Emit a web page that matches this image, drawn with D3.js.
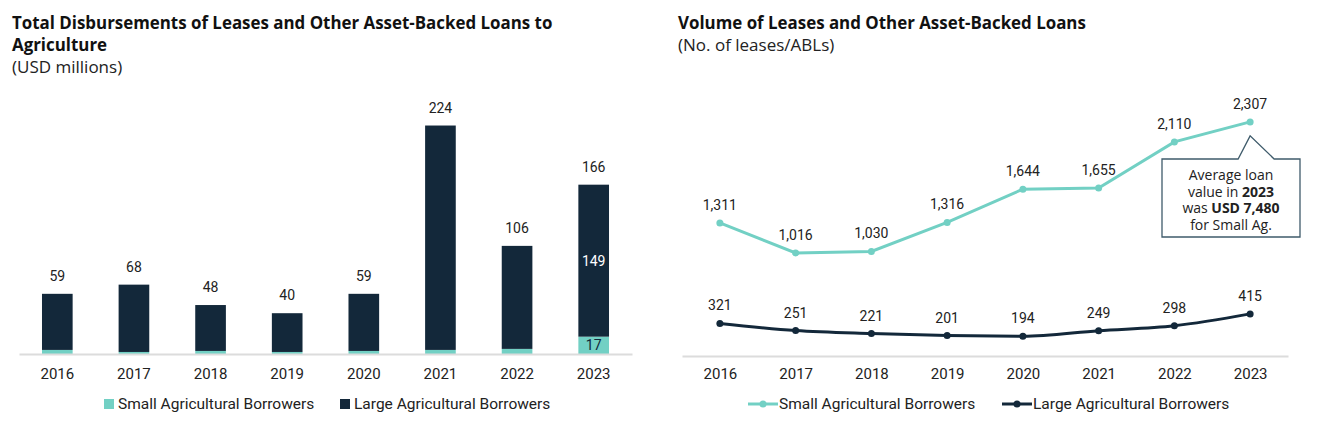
<!DOCTYPE html>
<html>
<head>
<meta charset="utf-8">
<script src="https://cdn.jsdelivr.net/npm/d3@7"></script>
<style>
  body { margin: 0; background: #fff; }
  svg { display: block; }
  text { font-family: Roboto, "Noto Sans", sans-serif; fill: #222; }
  .title { font-family: "Open Sans", sans-serif; font-weight: 700; font-size: 16.9px; fill: #111; }
  .sub { font-family: "Open Sans", sans-serif; font-size: 17px; }
</style>
</head>
<body>
<svg id="chart" width="1335" height="425"></svg>
<script>
// data
const years = ["2016", "2017", "2018", "2019", "2020", "2021", "2022", "2023"];
const smallDisb = [4, 2, 3, 2, 3, 4, 5, 17];
const largeDisb = [55, 66, 45, 38, 56, 220, 101, 149];
const totalDisb = [59, 68, 48, 40, 59, 224, 106, 166];
const smallVol = [1311, 1016, 1030, 1316, 1644, 1655, 2110, 2307];
const largeVol = [321, 251, 221, 201, 194, 249, 298, 415];
const seriesNames = ["Small Agricultural Borrowers", "Large Agricultural Borrowers"];

const teal = "#72d0c4";
const navy = "#13283a";
const fmt = d3.format(",");

const svg = d3.select("#chart");

// ---------- left: stacked bars ----------
const left = svg.append("g");

left.append("text").attr("class", "title").attr("x", 12).attr("y", 29)
    .text("Total Disbursements of Leases and Other Asset-Backed Loans to");
left.append("text").attr("class", "title").attr("x", 12).attr("y", 51)
    .text("Agriculture");
left.append("text").attr("class", "sub").attr("x", 12).attr("y", 73)
    .text("(USD millions)");

const xb = d3.scaleBand().domain(years).range([19, 632])
    .paddingInner(0.6).paddingOuter(0.3);
const yb = d3.scaleLinear().domain([0, 250]).range([354, 99]);

const rows = years.map((y, i) => ({ year: y, small: smallDisb[i], large: largeDisb[i], total: totalDisb[i] }));
const stack = d3.stack().keys(["small", "large"])(rows);
const colors = { small: teal, large: navy };

left.selectAll("g.layer").data(stack).join("g")
    .attr("class", "layer")
    .attr("fill", d => colors[d.key])
    .selectAll("rect").data(d => d).join("rect")
    .attr("x", d => xb(d.data.year))
    .attr("width", xb.bandwidth())
    .attr("y", d => yb(d[1]))
    .attr("height", d => yb(d[0]) - yb(d[1]));

left.selectAll("text.total").data(rows).join("text")
    .attr("class", "total")
    .attr("x", d => xb(d.year) + xb.bandwidth() / 2)
    .attr("y", d => yb(d.total) - 13)
    .attr("text-anchor", "middle")
    .style("font-size", "14px")
    .text(d => d.total);

// inner labels for 2023
const last = rows[rows.length - 1];
left.append("text")
    .attr("x", xb(last.year) + xb.bandwidth() / 2)
    .attr("y", yb(last.small + last.large / 2) + 5)
    .attr("text-anchor", "middle")
    .style("font-size", "14px").style("fill", "#fff")
    .text(last.large);
left.append("text")
    .attr("x", xb(last.year) + xb.bandwidth() / 2)
    .attr("y", yb(last.small / 2) + 5)
    .attr("text-anchor", "middle")
    .style("font-size", "14px").style("fill", navy)
    .text(last.small);

const axL = left.append("g").attr("transform", "translate(0,354)")
    .call(d3.axisBottom(xb).tickSize(0).tickPadding(14));
axL.select(".domain").attr("stroke", "#dcdcdc").attr("stroke-width", 2);
axL.selectAll("text").style("font-size", "15px").style("fill", "#222")
    .style("font-family", "Roboto, sans-serif");

const legL = left.append("g").attr("transform", "translate(0,404)");
[[104, teal, seriesNames[0]], [340, navy, seriesNames[1]]].forEach(([x, c, t]) => {
    legL.append("rect").attr("x", x).attr("y", -5).attr("width", 10).attr("height", 10).attr("fill", c);
    legL.append("text").attr("x", x + 14).attr("y", 5).style("font-size", "15.5px").text(t);
});

// ---------- right: lines ----------
const right = svg.append("g");

right.append("text").attr("class", "title").attr("x", 678).attr("y", 29)
    .text("Volume of Leases and Other Asset-Backed Loans");
right.append("text").attr("class", "sub").attr("x", 678).attr("y", 51)
    .text("(No. of leases/ABLs)");

const xp = d3.scalePoint().domain(years).range([682, 1288]).padding(0.5);
const yp = d3.scaleLinear().domain([0, 2500]).range([356, 102.3]);

const axR = right.append("g").attr("transform", "translate(0,356)")
    .call(d3.axisBottom(xp).tickSize(0).tickPadding(12));
axR.select(".domain").attr("stroke", "#dcdcdc").attr("stroke-width", 2);
axR.selectAll("text").style("font-size", "15px").style("fill", "#222")
    .style("font-family", "Roboto, sans-serif");

const lines = [
    { name: seriesNames[0], values: smallVol, color: teal, curve: d3.curveLinear },
    { name: seriesNames[1], values: largeVol, color: navy, curve: d3.curveMonotoneX }
];

lines.forEach(s => {
    const line = d3.line()
        .x((d, i) => xp(years[i]))
        .y(d => yp(d))
        .curve(s.curve);
    right.append("path").datum(s.values)
        .attr("d", line)
        .attr("fill", "none")
        .attr("stroke", s.color)
        .attr("stroke-width", 3);
    right.selectAll(null).data(s.values).join("circle")
        .attr("cx", (d, i) => xp(years[i]))
        .attr("cy", d => yp(d))
        .attr("r", 3.5)
        .attr("fill", s.color);
    right.selectAll(null).data(s.values).join("text")
        .attr("x", (d, i) => xp(years[i]))
        .attr("y", d => yp(d) - 13)
        .attr("text-anchor", "middle")
        .style("font-size", "14px")
        .text(d => fmt(d));
});

// callout box
const cx = xp("2023");
const cy = yp(smallVol[7]);
const bx0 = 1162, bx1 = 1300, by0 = 159, by1 = 237;
right.append("path")
    .attr("d", `M${bx0},${by0} H${cx - 12} L${cx},${cy + 14} L${cx + 24},${by0} H${bx1} V${by1} H${bx0} Z`)
    .attr("fill", "#fff")
    .attr("stroke", "#3f5b6b")
    .attr("stroke-width", 1.3);

const note = [
    [["Average loan", false]],
    [["value in ", false], ["2023", true]],
    [["was ", false], ["USD 7,480", true]],
    [["for Small Ag.", false]]
];
const noteX = (bx0 + bx1) / 2;
note.forEach((parts, i) => {
    const t = right.append("text")
        .attr("x", noteX).attr("y", 180 + i * 16.7)
        .attr("text-anchor", "middle")
        .style("font-family", "'Open Sans', sans-serif")
        .style("font-size", "14px");
    parts.forEach(([str, bold]) => {
        t.append("tspan").style("font-weight", bold ? 700 : 400).text(str);
    });
});

const legR = right.append("g").attr("transform", "translate(0,404)");
[[748, teal, seriesNames[0]], [1002, navy, seriesNames[1]]].forEach(([x, c, t]) => {
    legR.append("line").attr("x1", x).attr("x2", x + 30).attr("y1", 0).attr("y2", 0)
        .attr("stroke", c).attr("stroke-width", 3);
    legR.append("circle").attr("cx", x + 15).attr("cy", 0).attr("r", 3.5).attr("fill", c);
    legR.append("text").attr("x", x + 31).attr("y", 5).style("font-size", "15.5px").text(t);
});
</script>
</body>
</html>
